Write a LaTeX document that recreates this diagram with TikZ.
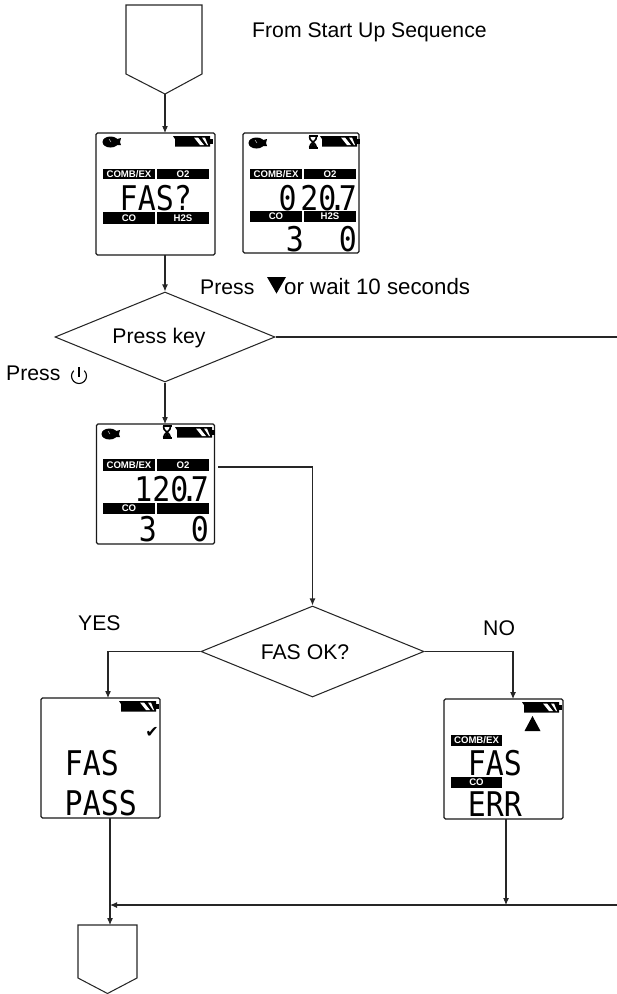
\documentclass[tikz,border=0pt]{standalone}
\usepackage{fontspec}
\setmainfont{Liberation Sans}
\newfontfamily\lcdfont{DejaVu Sans Mono}
\newfontfamily\symfont{DejaVu Sans}
\usetikzlibrary{arrows.meta,shapes.geometric,calc}
\tikzset{
  flow/.style={draw=black!85,line width=1.05pt},
  arr/.style={flow,-{Latex[length=7pt,width=6pt]}},
  lcdbox/.style={draw=black!90,line width=1.3pt,rounded corners=1.5pt,inner sep=0pt},
  dec/.style={flow,diamond,inner sep=0pt},
  dectext/.style={inner sep=0pt,font=\fontsize{21.2}{24}\selectfont},
  lab/.style={inner sep=0pt,font=\fontsize{21.2}{24}\selectfont,anchor=base west},
  bar/.style={fill=black,text=white,inner sep=0pt,font=\bfseries\fontsize{9.6}{10}\selectfont},
  seg/.style={inner sep=0pt,font=\lcdfont\fontsize{34}{34}\selectfont,anchor=base east},
}
\newcommand{\sq}[1]{\scalebox{.88}[1]{#1}}
% bar: name, x1, y1, x2, y2, text
\newcommand{\lcdbar}[6]{\node[bar,minimum width=#4pt-#2pt,minimum height=#5pt-#3pt] (#1) at ({(#2+#4)/2},{(#3+#5)/2}) {#6};}
% battery: left x, top y
\newcommand{\batt}[2]{
  \begin{scope}[shift={(#1,#2)}]
    \fill[black] (0,0) -- (37,0) -- (37,10.5) -- (2,10.5) -- (2,3) -- cycle;
    \fill[white] (21,1.5) -- (25,1.5) -- (31,9) -- (27,9) -- cycle;
    \fill[white] (29,1.5) -- (32,1.5) -- (35,9) -- (34,9) -- cycle;
    \fill[black] (37,3) rectangle (39.5,8);
  \end{scope}}
% pump icon
\newcommand{\pump}[2]{
  \begin{scope}[shift={(#1,#2)}]
    \fill[black] (-1.5,0) ellipse (8 and 5.5);
    \fill[black] (5,-3) -- (9,-4) -- (8,0) -- (9,3) -- (5,3) -- cycle;
    \draw[white,line width=0.4pt] (-3,-3) -- (-1,0);
  \end{scope}}
% hourglass
\newcommand{\hourgl}[2]{
  \begin{scope}[shift={(#1,#2)}]
    \fill[black] (-4.5,-7) rectangle (4.5,-5);
    \fill[black] (-4.5,5) rectangle (4.5,7);
    \draw[black,line width=1.6pt] (-3.5,-5.5) .. controls (-4.5,-1) and (3.5,1) .. (3.5,5.5);
    \draw[black,line width=1.6pt] (3.5,-5.5) .. controls (4.5,-1) and (-3.5,1) .. (-3.5,5.5);
    \fill[black] (-3.5,5.5) -- (0,1) -- (3.5,5.5) -- cycle;
  \end{scope}}
\begin{document}
\begin{tikzpicture}[x=1pt,y=-1pt]
\useasboundingbox (0,0) rectangle (617,994);

% top off-page connector
\coordinate (penAtl) at (126,5);
\coordinate (penAtr) at (202,5);
\coordinate (penAsr) at (202,74);
\coordinate (penAtip) at (165,94);
\coordinate (penAsl) at (126,74);
\draw[flow,line join=miter] (penAtl) -- (penAtr) -- (penAsr) -- (penAtip) -- (penAsl) -- cycle;
\node[lab] (tFrom) at (252,37) {From Start Up Sequence};

% LCD A
\node[lcdbox,minimum width=119pt,minimum height=122pt] (lcdA) at (155.5,194) {};
\pump{112}{142}
\batt{173}{136}
\lcdbar{aA}{103}{169}{155}{179}{COMB/EX}
\lcdbar{aB}{157}{169}{209}{179}{O2}
\lcdbar{aC}{103}{212}{155}{224}{CO}
\lcdbar{aD}{157}{212}{209}{224}{H2S}
\node[seg] (aT) at (192,210) {\sq{FAS?}};

% LCD B
\node[lcdbox,minimum width=116pt,minimum height=120pt] (lcdB) at (301,193) {};
\pump{258}{143}
\hourgl{313}{142}
\batt{320}{136}
\lcdbar{bA}{250}{169}{302}{179}{COMB/EX}
\lcdbar{bB}{304}{169}{356}{179}{O2}
\lcdbar{bC}{250}{211}{302}{222}{CO}
\lcdbar{bD}{304}{211}{356}{222}{H2S}
\node[seg] (bT) at (357,210) {\sq{0\kern.12em 20\kern-.26em.\kern-.26em7}};
\node[seg] (bU) at (304,251) {\sq{3}};
\node[seg] (bV) at (357,251) {\sq{0}};

% press line
\coordinate (inA) at (165,133);
\draw[arr] (penAtip) -- (inA);
\node[lab] (tPress) at (200,294) {Press};
\fill[black] (267,277) -- (286,277) -- (276.5,293.5) -- cycle;
\node[lab,font=\fontsize{22.3}{24}\selectfont] (tWait) at (284,294) {or wait 10 seconds};

% Press key decision
\node[dec,minimum width=220pt,minimum height=90pt,aspect=2.44] (dA) at (165,337) {};
\node[dectext] (dAt) at (159,338) {Press key};
\coordinate (outA) at (165,255);
\draw[arr] (outA) -- (dA.north);
\coordinate (rA) at (617,337);
\draw[flow] (dA.east) -- (rA);
\node[lab] (tPow) at (6,380) {Press};
\draw[black,line width=1.1pt] (73.7,370.7) arc[start angle=225,end angle=-45,radius=7.5];
\draw[black,line width=1.1pt] (79,367) -- (79,377);

% LCD C
\node[lcdbox,minimum width=118pt,minimum height=120pt] (lcdC) at (155.5,484) {};
\pump{111}{434}
\hourgl{167}{432}
\batt{175}{427}
\lcdbar{cA}{103}{459}{155}{471}{COMB/EX}
\lcdbar{cB}{157}{459}{209}{471}{O2}
\lcdbar{cC}{103}{503}{155}{514}{CO}
\lcdbar{cD}{157}{503}{209}{514}{}
\node[seg] (cT) at (209,501) {\sq{120\kern-.26em.\kern-.26em7}};
\node[seg] (cU) at (157,541) {\sq{3}};
\node[seg] (cV) at (209,541) {\sq{0}};
\coordinate (inC) at (165,424);
\draw[arr] (dA.south) -- (inC);

% FAS OK decision
\coordinate (outC) at (218,467);
\node[dec,minimum width=223pt,minimum height=91pt,aspect=2.45] (dB) at (312.5,651.5) {};
\node[dectext] (dBt) at (305,652) {FAS OK?};
\draw[arr] (outC) -| (dB.north);
\node[lab] (tYes) at (78,630) {YES};
\node[lab] (tNo) at (483,635) {NO};

% LCD D
\node[lcdbox,minimum width=119pt,minimum height=120pt] (lcdD) at (100.5,758) {};
\batt{119}{701}
\node[inner sep=0pt,font=\symfont\fontsize{16}{16}\selectfont] (dCk) at (152,732) {✔};
\node[seg] (dT) at (119,775) {\sq{FAS}};
\node[seg] (dU) at (137,815) {\sq{PASS}};
\coordinate (inD) at (108,698);
\draw[arr] (dB.west) -| (inD);

% LCD E
\node[lcdbox,minimum width=119pt,minimum height=120pt] (lcdE) at (503.5,759) {};
\batt{522}{702}
\fill[black] (524.5,731) -- (532.5,716) -- (540.5,731) -- cycle;
\lcdbar{eA}{451}{735}{502}{746}{COMB/EX}
\lcdbar{eC}{451}{777}{502}{788}{CO}
\node[seg] (eT) at (522,775) {\sq{FAS}};
\node[seg] (eU) at (522,816) {\sq{ERR}};
\coordinate (inE) at (513,699);
\draw[arr] (dB.east) -| (inE);

% merge
\coordinate (outD) at (110,818);
\coordinate (outE) at (506,819);
\coordinate (rE) at (617,905);
\coordinate (mrg) at (110,905);
\coordinate (mrgE) at (506,905);
\coordinate (penBin) at (110,925);
\draw[arr] (outD) -- (penBin);
\draw[arr] (rE) -- (mrg);
\draw[arr] (outE) -- (mrgE);

% bottom off-page connector
\coordinate (penBtl) at (78,925);
\coordinate (penBtr) at (137,925);
\coordinate (penBsr) at (137,978);
\coordinate (penBtip) at (107.5,993.5);
\coordinate (penBsl) at (78,978);
\draw[flow,line join=miter] (penBtl) -- (penBtr) -- (penBsr) -- (penBtip) -- (penBsl) -- cycle;
\end{tikzpicture}
\end{document}
